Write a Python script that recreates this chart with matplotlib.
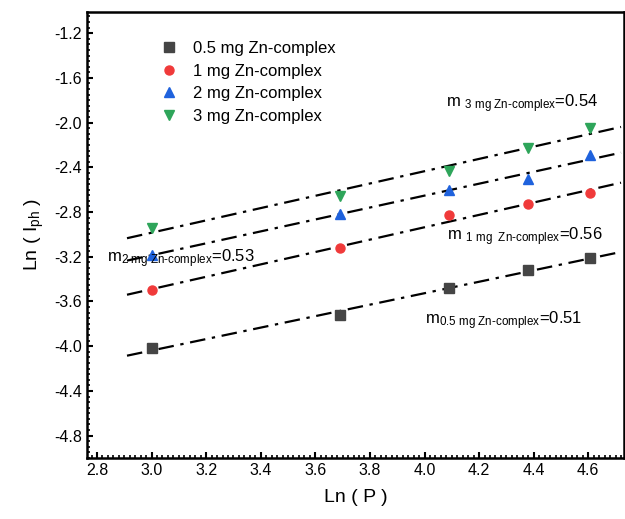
import numpy as np
import matplotlib
matplotlib.use('Agg')
import matplotlib.pyplot as plt
from matplotlib.ticker import MultipleLocator

plt.rcParams['font.family'] = ['Liberation Sans', 'DejaVu Sans']
plt.rcParams['mathtext.fontset'] = 'custom'
plt.rcParams['mathtext.rm'] = 'Liberation Sans'
plt.rcParams['mathtext.it'] = 'Liberation Sans'

# Ln(P) values
ln_p = [3.00, 3.69, 4.09, 4.38, 4.605]

# Ln(Iph) values for each loading
y_05 = [-4.02, -3.72, -3.48, -3.32, -3.21]
y_1 = [-3.50, -3.12, -2.83, -2.73, -2.63]
y_2 = [-3.18, -2.82, -2.60, -2.50, -2.29]
y_3 = [-2.94, -2.655, -2.433, -2.23, -2.044]

labels = ['0.5 mg Zn-complex', '1 mg Zn-complex', '2 mg Zn-complex', '3 mg Zn-complex']
colors = ['#454545', '#f03a3a', '#1f62dd', '#2ea55a']
markers = ['s', 'o', '^', 'v']

fig = plt.figure(figsize=(6.25, 5.19), dpi=100)
ax = fig.add_axes([0.139, 0.1175, 0.859, 0.8595])

xfit = np.array([2.91, 4.72])
for ys, lab, c, m in zip([y_05, y_1, y_2, y_3], labels, colors, markers):
    k, b = np.polyfit(ln_p, ys, 1)
    ax.plot(xfit, k * xfit + b, color='black', lw=1.6, ls=(0, (7, 3, 1.5, 3)), zorder=2)
    ax.plot(ln_p, ys, ls='none', marker=m, color=c, ms=6.5, label=lab, zorder=3)

ax.set_xlim(2.763, 4.73)
ax.set_ylim(-5.0, -1.01)
ax.xaxis.set_major_locator(MultipleLocator(0.2))
ax.xaxis.set_minor_locator(MultipleLocator(0.02))
ax.yaxis.set_major_locator(MultipleLocator(0.4))
ax.yaxis.set_minor_locator(MultipleLocator(0.05))
ax.xaxis.set_major_formatter(matplotlib.ticker.FormatStrFormatter('%.1f'))
ax.yaxis.set_major_formatter(matplotlib.ticker.FormatStrFormatter('%.1f'))
ax.tick_params(which='major', direction='in', length=4, width=1.5, labelsize=11.5, top=False, right=False)
ax.tick_params(which='minor', direction='in', length=2.5, width=1.2, top=False, right=False)
for s in ax.spines.values():
    s.set_linewidth(1.8)

ax.set_xlabel('Ln ( P )', fontsize=14, labelpad=8)
ax.set_ylabel(r'Ln ( I$_{\mathregular{ph}}$ )', fontsize=14, labelpad=6)

ax.legend(loc='upper left', bbox_to_anchor=(0.11, 0.968), frameon=False, fontsize=12,
          handlelength=1, handletextpad=0.9, labelspacing=0.45, numpoints=1)

fs = 12
ax.text(4.08, -1.86, r'm $_{\text{3 mg Zn-complex}}$=0.54', fontsize=fs)
ax.text(4.083, -3.05, r'm $_{\text{1 mg  Zn-complex}}$=0.56', fontsize=fs)
ax.text(2.837, -3.245, r'm$_{\text{2 mg Zn-complex}}$=0.53', fontsize=fs)
ax.text(4.0, -3.805, r'm$_{\text{0.5 mg Zn-complex}}$=0.51', fontsize=fs)

fig.savefig('out.png', dpi=100)
